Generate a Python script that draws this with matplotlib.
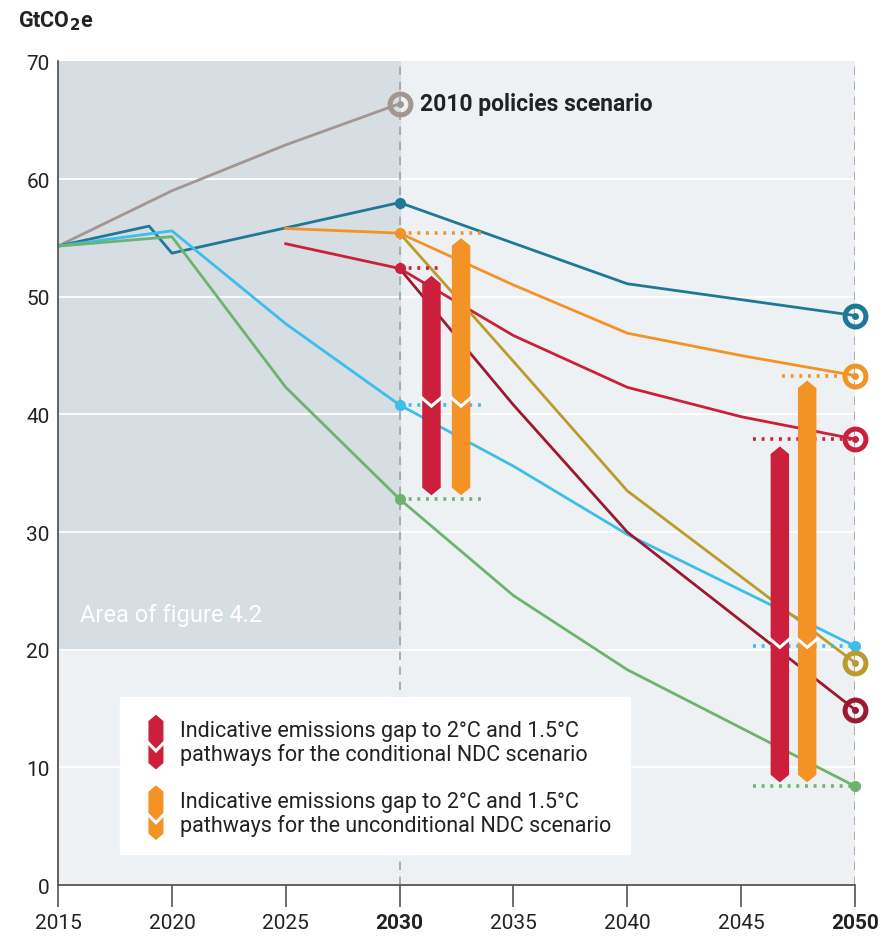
import matplotlib.pyplot as plt
from matplotlib.patches import Polygon, Rectangle

plt.rcParams['font.family'] = ['Roboto', 'DejaVu Sans']

# --- data ---
years_policy = [2015, 2020, 2025, 2030]
policy_2010 = [54.3, 59.0, 62.9, 66.4]

years_teal = [2015, 2019, 2020, 2030, 2040, 2050]
teal = [54.3, 56.0, 53.7, 58.0, 51.1, 48.4]

years_long = [2015, 2020, 2025, 2030, 2035, 2040, 2050]
light_blue = [54.3, 55.6, 47.7, 40.8, 35.6, 29.8, 20.3]
green = [54.3, 55.1, 42.3, 32.8, 24.6, 18.3, 8.4]

years_ndc = [2025, 2030, 2035, 2040, 2045, 2050]
orange = [55.8, 55.4, 51.0, 46.9, 45.0, 43.3]
red = [54.5, 52.4, 46.7, 42.3, 39.8, 37.9]

years_cur = [2030, 2035, 2040, 2050]
dark_red = [52.4, 40.8, 30.0, 14.9]
gold = [55.4, 44.5, 33.5, 18.9]

# gap bars: (x position, top, bottom, notch level)
gap_red = [(2031.4, 51.7, 33.2, 40.8), (2046.7, 37.2, 8.8, 20.3)]
gap_orange = [(2032.7, 54.9, 33.2, 40.8), (2047.9, 42.8, 8.8, 20.3)]

xticks = [2015, 2020, 2025, 2030, 2035, 2040, 2045, 2050]
yticks = [0, 10, 20, 30, 40, 50, 60, 70]

c_gray = '#a3958f'
c_teal = '#1f7896'
c_blue = '#3dbde9'
c_green = '#6db36d'
c_orange = '#f39325'
c_red = '#cc1f3c'
c_dred = '#9b1a30'
c_gold = '#bb9a2e'

fig = plt.figure(figsize=(8.86, 9.45), dpi=100)
ax = fig.add_axes([0.0655, 0.0624, 0.8995, 0.8716])
ax.set_xlim(2015, 2050)
ax.set_ylim(0, 70)
ax.set_facecolor('#eef1f4')

# shaded area of figure 4.2
ax.add_patch(Rectangle((2015, 20), 15, 50, color='#d6dde3', zorder=0))
ax.text(2015.95, 22.4, 'Area of figure 4.2', color='white', fontsize=17, zorder=1)

for y in yticks[1:-1]:
    ax.axhline(y, color='white', lw=1.3, zorder=0.5)
ax.axvline(2030, color='#a0a0a0', lw=1.2, ls=(0, (5, 4)), zorder=0.8)
ax.axvline(2050, color='#a0a0a0', lw=1.2, ls=(0, (5, 4)), zorder=0.8)

lw = 2
ax.plot(years_policy, policy_2010, color=c_gray, lw=lw, zorder=2)
ax.plot(years_teal, teal, color=c_teal, lw=lw, zorder=2)
ax.plot(years_long, light_blue, color=c_blue, lw=lw, zorder=2)
ax.plot(years_long, green, color=c_green, lw=lw, zorder=2)
ax.plot(years_ndc, orange, color=c_orange, lw=lw, zorder=2)
ax.plot(years_ndc, red, color=c_red, lw=lw, zorder=2)
ax.plot(years_cur, dark_red, color=c_dred, lw=lw, zorder=2)
ax.plot(years_cur, gold, color=c_gold, lw=lw, zorder=2)

# dotted reference lines
dot = dict(lw=2.6, ls=(0, (0.8, 1.6)), zorder=3)
ax.plot([2030, 2031.9], [red[1], red[1]], color=c_red, **dot)
ax.plot([2030, 2033.6], [orange[1], orange[1]], color=c_orange, **dot)
ax.plot([2030, 2033.7], [light_blue[3], light_blue[3]], color=c_blue, **dot)
ax.plot([2030, 2033.7], [green[3], green[3]], color=c_green, **dot)
ax.plot([2046.8, 2050], [orange[-1], orange[-1]], color=c_orange, **dot)
ax.plot([2045.5, 2050], [red[-1], red[-1]], color=c_red, **dot)
ax.plot([2045.5, 2050], [light_blue[-1], light_blue[-1]], color=c_blue, **dot)
ax.plot([2045.5, 2050], [green[-1], green[-1]], color=c_green, **dot)


def gap_bar(x, top, bottom, notch, color, w=0.75, p=0.6, z=4):
    pts = [(x - w / 2, top - p), (x, top), (x + w / 2, top - p),
           (x + w / 2, bottom + p), (x, bottom), (x - w / 2, bottom + p)]
    ax.add_patch(Polygon(pts, closed=True, color=color, zorder=z))
    ax.plot([x - w / 2 - 0.05, x, x + w / 2 + 0.05], [notch + 0.6, notch - 0.1, notch + 0.6],
            color='white', lw=2.2, zorder=z + 1, solid_joinstyle='miter')


for b in gap_red:
    gap_bar(*b, c_red)
for b in gap_orange:
    gap_bar(*b, c_orange)

# small filled dots
for xv, yv, c in [(2030, teal[3], c_teal), (2030, orange[1], c_orange),
                  (2030, red[1], c_red), (2030, light_blue[3], c_blue),
                  (2030, green[3], c_green), (2050, light_blue[-1], c_blue),
                  (2050, green[-1], c_green)]:
    ax.plot(xv, yv, 'o', ms=7, color=c, zorder=6, clip_on=False)

# ring markers
for xv, yv, c in [(2030, policy_2010[-1], c_gray), (2050, teal[-1], c_teal),
                  (2050, orange[-1], c_orange), (2050, red[-1], c_red),
                  (2050, gold[-1], c_gold), (2050, dark_red[-1], c_dred)]:
    ax.plot(xv, yv, 'o', ms=15, mfc='none', mec=c, mew=3.6, zorder=7, clip_on=False)
    ax.plot(xv, yv, 'o', ms=4, color=c, zorder=7, clip_on=False)

ax.text(2030.9, policy_2010[-1], '2010 policies scenario', fontsize=16.5,
        fontweight='bold', color='#222222', va='center', zorder=8)

# legend box
ax.add_patch(Rectangle((2017.7, 2.6), 22.4, 13.4, color='white', zorder=8))
gap_bar(2019.3, 14.4, 9.9, 11.5, c_red, w=0.6, p=0.5, z=9)
gap_bar(2019.3, 8.4, 3.9, 5.4, c_orange, w=0.6, p=0.5, z=9)
ax.text(2020.35, 12.15, 'Indicative emissions gap to 2°C and 1.5°C\npathways for the conditional NDC scenario',
        fontsize=15.5, color='#222222', va='center', linespacing=1.12, zorder=10)
ax.text(2020.35, 6.05, 'Indicative emissions gap to 2°C and 1.5°C\npathways for the unconditional NDC scenario',
        fontsize=15.5, color='#222222', va='center', linespacing=1.12, zorder=10)

# axes styling
for s in ['top', 'right']:
    ax.spines[s].set_visible(False)
ax.spines['left'].set_color('#555555')
ax.spines['bottom'].set_color('#555555')
ax.spines['left'].set_linewidth(1.3)
ax.spines['bottom'].set_linewidth(1.3)
ax.set_xticks(xticks)
ax.set_yticks(yticks)
ax.tick_params(axis='x', length=16, width=1.2, color='#555555', labelsize=15, pad=4, labelcolor='#222222')
ax.tick_params(axis='y', length=0, labelsize=15, pad=6, labelcolor='#222222')
for lab in ax.get_xticklabels():
    if lab.get_text() in ('2030', '2050'):
        lab.set_fontweight('bold')

fig.text(0.02, 0.978, r'GtCO$_\mathbf{2}$e', fontsize=15.5, fontweight='bold', color='#222222', va='center')

fig.savefig('out.png', dpi=100)
